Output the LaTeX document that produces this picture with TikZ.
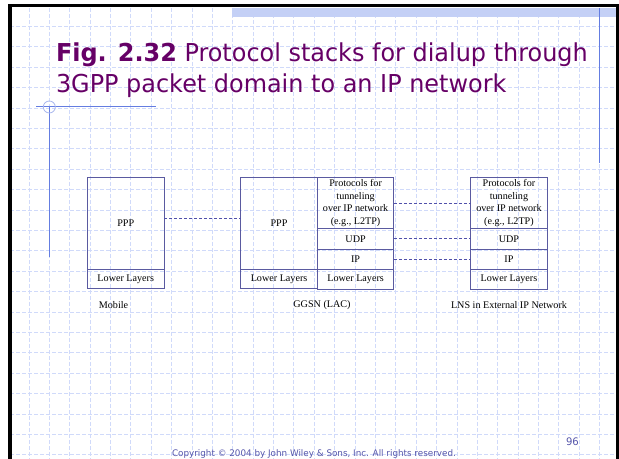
\documentclass[tikz,border=0pt]{standalone}
\usepackage{fontspec}
\setmainfont{Liberation Serif}
\newfontfamily\slidefont[FakeStretch=0.97]{DejaVu Sans}
\usetikzlibrary{positioning}
\definecolor{titlepurple}{RGB}{102,0,102}
\definecolor{stackline}{RGB}{90,90,160}
\definecolor{linkline}{RGB}{80,80,170}
\definecolor{gridblue}{RGB}{208,218,250}
\definecolor{bandblue}{RGB}{196,208,246}
\definecolor{decoblue}{RGB}{100,125,225}
\definecolor{footblue}{RGB}{85,85,170}

\begin{document}
\begin{tikzpicture}[x=0.75pt, y=-0.75pt,
  every node/.style = {inner sep=0pt, outer sep=0pt},
  layer/.style = {shape=rectangle, draw=stackline, line width=0.75pt,
    minimum width=57.4pt, align=center,
    font=\fontsize{7.6}{9.3}\selectfont},
  pppbox/.style = {layer, minimum height=69pt},
  lowbox/.style = {layer, minimum height=14.6pt},
  tunbox/.style = {layer, minimum height=38.25pt},
  thinbox/.style = {layer, minimum height=15.4pt},
  caption/.style = {font=\fontsize{7.6}{9.3}\selectfont},
  peer/.style = {draw=linkline, line width=0.6pt, dash pattern=on 2.25pt off 1.5pt},
  gridline/.style = {draw=gridblue, line width=0.7pt, dash pattern=on 3pt off 1.5pt},
  title/.style = {text=titlepurple, font=\slidefont\fontsize{18.5}{22}\selectfont},
  foot/.style = {text=footblue, font=\slidefont\fontsize{6.8}{8}\selectfont}
  ]
  \useasboundingbox (0,0) rectangle (619,459);

  % slide background
  \foreach \i in {0,...,28}
    \draw[gridline] ({29+20.38*\i},8) -- ({29+20.38*\i},459);
  \foreach \j in {0,...,21}
    \draw[gridline] (10,{26.5+20.4*\j}) -- (618,{26.5+20.4*\j});
  \fill[bandblue] (232,8.3) rectangle (617,16.7);
  \draw[black, line width=2.5pt] (10,470) -- (10,5.7) -- (617.8,5.7) -- (617.8,470);
  \draw[decoblue, line width=0.75pt] (36,107) -- (156,107);
  \draw[decoblue, line width=0.75pt] (49.3,107) -- (49.3,256.7);
  \draw[decoblue!55, line width=0.6pt] (49.3,107) circle[radius=4.5pt];
  \draw[decoblue, line width=0.75pt] (599.3,8) -- (599.3,163.3);

  \node[title, anchor=base west] (title1) at (56,62) {\textbf{Fig. 2.32} Protocol stacks for dialup through};
  \node[title, anchor=base west] (title2) at (56,93) {3GPP packet domain to an IP network};

  % mobile
  \node[pppbox, anchor=north west] (mppp) at (87.5,177.5) {PPP};
  \node[lowbox, below=0pt of mppp] (mlow) {Lower Layers};

  % GGSN
  \node[pppbox, anchor=north west] (gppp) at (240.8,177.5) {PPP};
  \node[lowbox, below=0pt of gppp] (glow) {Lower Layers};
  \node[tunbox, right=0pt of gppp.north east, anchor=north west] (gtun) {Protocols for\\tunneling\\over IP network\\(e.g., L2TP)};
  \node[thinbox, below=0pt of gtun] (gudp) {UDP};
  \node[thinbox, below=0pt of gudp] (gip) {IP};
  \node[lowbox, below=0pt of gip] (glow2) {Lower Layers};

  % LNS
  \node[tunbox, anchor=north west] (ltun) at (470.7,177.5) {Protocols for\\tunneling\\over IP network\\(e.g., L2TP)};
  \node[thinbox, below=0pt of ltun] (ludp) {UDP};
  \node[thinbox, below=0pt of ludp] (lip) {IP};
  \node[lowbox, below=0pt of lip] (llow) {Lower Layers};

  \draw[peer] ([yshift=3.9pt]mppp.east) -- ([yshift=3.9pt]gppp.west);
  \draw[peer] (gtun) -- (ltun);
  \draw[peer] (gudp) -- (ludp);
  \draw[peer] (gip) -- (lip);

  \node[caption] (mobile) at (113.5,305) {Mobile};
  \node[caption] (ggsn) at (322,305) {GGSN (LAC)};
  \node[caption] (lns) at (509,305) {LNS in External IP Network};

  \node[foot, anchor=base west] (copy) at (172,457) {Copyright © 2004 by John Wiley \& Sons, Inc. All rights reserved.};
  \node[foot, anchor=base west, font=\slidefont\fontsize{7.8}{9}\selectfont] (page) at (566,446) {96};
\end{tikzpicture}
\end{document}
